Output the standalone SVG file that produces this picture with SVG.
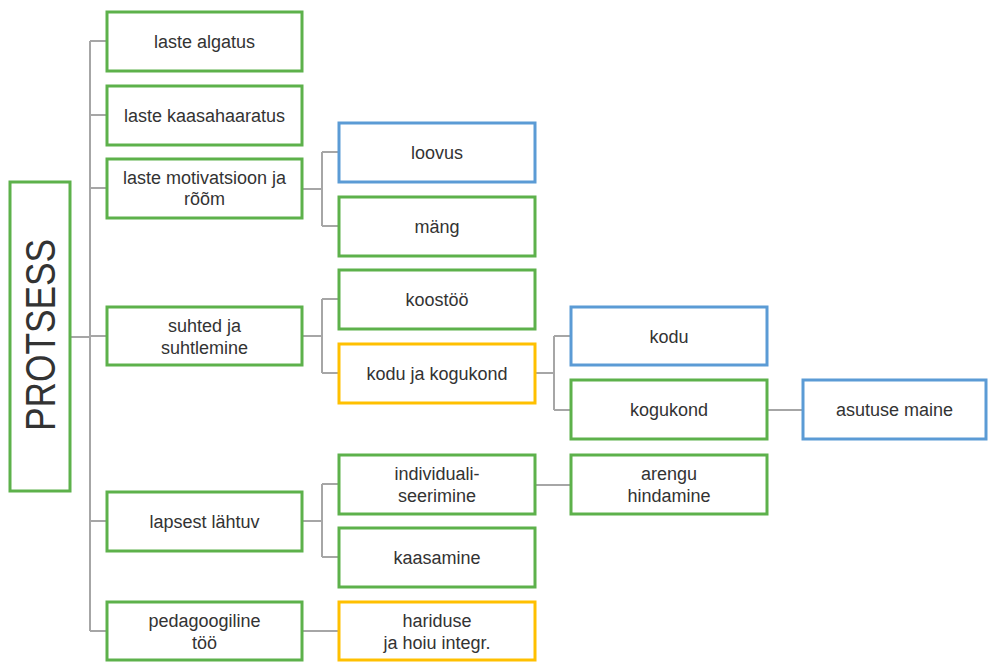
<svg xmlns="http://www.w3.org/2000/svg" width="988" height="662" viewBox="0 0 988 662">
<style>
.b{fill:#fff;stroke-width:3}
.g{stroke:#5DB14B}
.bl{stroke:#5B9BD5}
.y{stroke:#FFC000}
text{font-family:"Liberation Sans",Arial,sans-serif;font-size:18px;fill:#333;text-anchor:middle}
.c{fill:none;stroke:#A6A6A6;stroke-width:2}
</style>
<rect width="988" height="662" fill="#fff"/>
<g id="connectors" class="c">
<path d="M70,337H90M90,41V631M90,41H107M90,115H107M90,188H107M90,336H107M90,521H107M90,631H107"/>
<path d="M302,189H322M322,152V226M322,152H339M322,226H339"/>
<path d="M302,336H322M322,299V373M322,299H339M322,373H339"/>
<path d="M302,521H322M322,484V557M322,484H339M322,557H339"/>
<path d="M302,631H339"/>
<path d="M535,373H554M554,336V410M554,336H571M554,410H571"/>
<path d="M767,410H803"/>
<path d="M535,485H571"/>
</g>
<g id="protsess"><rect class="b g" x="10" y="182" width="60" height="309"/><text transform="translate(55,335) rotate(-90)" style="font-size:42px" textLength="192" lengthAdjust="spacingAndGlyphs">PROTSESS</text></g>
<g id="laste-algatus"><rect class="b g" x="107" y="12" width="195" height="59"/><text x="204.5" y="48">laste algatus</text></g>
<g id="laste-kaasahaaratus"><rect class="b g" x="107" y="86" width="195" height="59"/><text x="204.5" y="122">laste kaasahaaratus</text></g>
<g id="laste-motivatsioon"><rect class="b g" x="107" y="159" width="195" height="59"/><text x="204.5" y="184">laste motivatsioon ja</text><text x="204.5" y="205">rõõm</text></g>
<g id="suhted"><rect class="b g" x="107" y="307" width="195" height="58"/><text x="204.5" y="332">suhted ja</text><text x="204.5" y="354">suhtlemine</text></g>
<g id="lapsest-lahtuv"><rect class="b g" x="107" y="492" width="195" height="59"/><text x="204.5" y="528">lapsest lähtuv</text></g>
<g id="pedagoogiline"><rect class="b g" x="107" y="602" width="195" height="58"/><text x="204.5" y="627">pedagoogiline</text><text x="204.5" y="649">töö</text></g>
<g id="loovus"><rect class="b bl" x="339" y="123" width="196" height="59"/><text x="437" y="159">loovus</text></g>
<g id="mang"><rect class="b g" x="339" y="197" width="196" height="59"/><text x="437" y="233">mäng</text></g>
<g id="koostoo"><rect class="b g" x="339" y="270" width="196" height="59"/><text x="437" y="306">koostöö</text></g>
<g id="kodu-ja-kogukond"><rect class="b y" x="339" y="344" width="196" height="59"/><text x="437" y="380">kodu ja kogukond</text></g>
<g id="individualiseerimine"><rect class="b g" x="339" y="455" width="196" height="59"/><text x="437" y="480">individuali-</text><text x="437" y="502">seerimine</text></g>
<g id="kaasamine"><rect class="b g" x="339" y="528" width="196" height="59"/><text x="437" y="564">kaasamine</text></g>
<g id="hariduse"><rect class="b y" x="339" y="602" width="196" height="58"/><text x="437" y="627">hariduse</text><text x="437" y="649">ja hoiu integr.</text></g>
<g id="kodu"><rect class="b bl" x="571" y="307" width="196" height="58"/><text x="669" y="343">kodu</text></g>
<g id="kogukond"><rect class="b g" x="571" y="380" width="196" height="59"/><text x="669" y="416">kogukond</text></g>
<g id="arengu-hindamine"><rect class="b g" x="571" y="455" width="196" height="59"/><text x="669" y="480">arengu</text><text x="669" y="502">hindamine</text></g>
<g id="asutuse-maine"><rect class="b bl" x="803" y="380" width="183" height="59"/><text x="894.5" y="416">asutuse maine</text></g>
</svg>
